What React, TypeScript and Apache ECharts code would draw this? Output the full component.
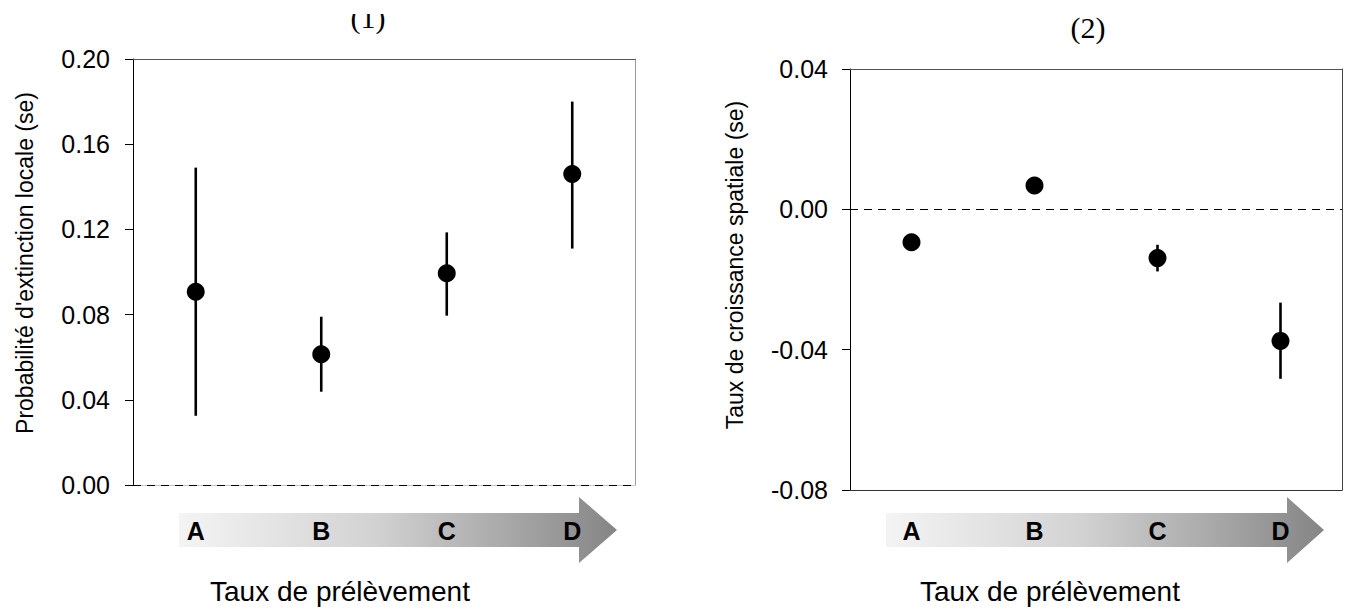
import React, { useEffect, useRef } from "react";
import * as echarts from "echarts";

// ---- data ----
const categories = ["A", "B", "C", "D"];

// Panel (1): Probabilité d'extinction locale
const extinctionMean = [0.0907, 0.0614, 0.0994, 0.146];
const extinctionLow = [0.0325, 0.0438, 0.0795, 0.111];
const extinctionHigh = [0.149, 0.079, 0.1186, 0.18];
const extinctionAxis = { min: 0, max: 0.2, interval: 0.04 };

// Panel (2): Taux de croissance spatiale
const growthMean = [-0.0094, 0.0068, -0.0139, -0.0375];
const growthLow = [-0.0101, 0.0061, -0.0177, -0.0483];
const growthHigh = [-0.0087, 0.0075, -0.0101, -0.0266];
const growthAxis = { min: -0.08, max: 0.04, interval: 0.04 };

const panelTitles = ["(1)", "(2)"];
const yTitles = ["Probabilité d'extinction locale (se)", "Taux de croissance spatiale (se)"];
const xTitle = "Taux de prélèvement";

const SANS = "'Liberation Sans', Arial, Helvetica, sans-serif";
const SERIF = "'Liberation Serif', 'Times New Roman', serif";

function errorBarSeries(xIdx: number, yIdx: number, low: number[], high: number[], zeroUnderlay: boolean) {
  const s: any = {
    type: "custom",
    xAxisIndex: xIdx,
    yAxisIndex: yIdx,
    silent: true,
    z: 3,
    data: categories.map((_, i) => [i, low[i], high[i]]),
    encode: { x: 0, y: [1, 2] },
    renderItem: (params: any, api: any) => {
      const x = api.value(0);
      const lo = api.coord([x, api.value(1)]);
      const hi = api.coord([x, api.value(2)]);
      return {
        type: "line",
        shape: { x1: lo[0], y1: lo[1], x2: hi[0], y2: hi[1] },
        style: { stroke: "#000", lineWidth: 2.6 },
      };
    },
  };
  if (zeroUnderlay) {
    s.markLine = {
      silent: true,
      symbol: "none",
      label: { show: false },
      lineStyle: { color: "#c8c8c8", type: "solid", width: 1.2 },
      data: [{ yAxis: 0 }],
    };
  }
  return s;
}

function pointSeries(xIdx: number, yIdx: number, mean: number[]) {
  return {
    type: "scatter",
    xAxisIndex: xIdx,
    yAxisIndex: yIdx,
    symbol: "circle",
    symbolSize: 18,
    itemStyle: { color: "#000", opacity: 1 },
    z: 4,
    data: categories.map((_, i) => [i, mean[i]]),
    markLine: {
      silent: true,
      symbol: "none",
      label: { show: false },
      lineStyle: { color: "#000", type: [8, 6], width: 1.2 },
      data: [{ yAxis: 0 }],
    },
  };
}

function bottomCategoryAxis(gridIndex: number, showLine: boolean, lineColor: string, margin: number) {
  return {
    gridIndex,
    type: "category",
    data: categories,
    boundaryGap: true,
    position: "bottom",
    z: 10,
    axisLine: { show: showLine, onZero: false, lineStyle: { color: lineColor, width: 1 } },
    axisTick: { show: false },
    axisLabel: {
      show: true,
      margin,
      color: "#000",
      fontWeight: "bold",
      fontSize: 25,
      fontFamily: SANS,
    },
    splitLine: { show: false },
  };
}

function topCategoryAxis(gridIndex: number, lineColor: string) {
  return {
    gridIndex,
    type: "category",
    data: categories,
    boundaryGap: true,
    position: "top",
    axisLine: { show: true, onZero: false, lineStyle: { color: lineColor, width: 1 } },
    axisTick: { show: false },
    axisLabel: { show: false },
    splitLine: { show: false },
  };
}

function leftValueAxis(gridIndex: number, range: { min: number; max: number; interval: number }, margin: number) {
  return {
    gridIndex,
    type: "value",
    position: "left",
    min: range.min,
    max: range.max,
    interval: range.interval,
    axisLine: { show: true, onZero: false, lineStyle: { color: "#000", width: 1 } },
    axisTick: { show: true, inside: false, length: 8, lineStyle: { color: "#000", width: 1 } },
    axisLabel: {
      show: true,
      margin,
      color: "#000",
      fontSize: 25,
      fontFamily: SANS,
      formatter: (v: number) => v.toFixed(2),
    },
    splitLine: { show: false },
  };
}

function rightValueAxis(gridIndex: number, range: { min: number; max: number; interval: number }, lineColor: string) {
  return {
    gridIndex,
    type: "value",
    position: "right",
    min: range.min,
    max: range.max,
    interval: range.interval,
    axisLine: { show: true, onZero: false, lineStyle: { color: lineColor, width: 1 } },
    axisTick: { show: false },
    axisLabel: { show: false },
    splitLine: { show: false },
  };
}

function arrow(x0: number, xHead: number, xTip: number) {
  return {
    type: "polygon",
    z: 1,
    silent: true,
    shape: {
      points: [
        [x0, 513],
        [xHead, 513],
        [xHead, 497],
        [xTip, 530],
        [xHead, 563],
        [xHead, 547],
        [x0, 547],
      ],
    },
    style: {
      fill: new echarts.graphic.LinearGradient(0, 0, 1, 0, [
        { offset: 0, color: "#f4f4f4" },
        { offset: 0.45, color: "#d2d2d2" },
        { offset: 1, color: "#858585" },
      ]),
      stroke: "none",
    },
  };
}

function text(str: string, x: number, y: number, font: string, rotation = 0) {
  return {
    type: "text",
    z: 5,
    x,
    y,
    rotation,
    style: { text: str, fill: "#000", font, align: "center", verticalAlign: "middle" },
  };
}

export default function App() {
  const ref = useRef<HTMLDivElement>(null);

  useEffect(() => {
    if (!ref.current) return;
    const chart = echarts.init(ref.current, null, { renderer: "svg" });
    const option: any = {
      animation: false,
      backgroundColor: "#fff",
      grid: [
        { left: 133, top: 59, width: 502, height: 426, containLabel: false, show: false },
        { left: 850, top: 69, width: 492, height: 421, containLabel: false, show: false },
      ],
      xAxis: [
        bottomCategoryAxis(0, false, "#aaa", 33),
        topCategoryAxis(0, "#555"),
        bottomCategoryAxis(1, true, "#333", 28),
        topCategoryAxis(1, "#555"),
      ],
      yAxis: [
        leftValueAxis(0, extinctionAxis, 23),
        rightValueAxis(0, extinctionAxis, "#999"),
        leftValueAxis(1, growthAxis, 22),
        rightValueAxis(1, growthAxis, "#444"),
      ],
      series: [
        errorBarSeries(0, 0, extinctionLow, extinctionHigh, true),
        pointSeries(0, 0, extinctionMean),
        errorBarSeries(2, 2, growthLow, growthHigh, false),
        pointSeries(2, 2, growthMean),
      ],
      graphic: [
        arrow(179, 579, 617),
        arrow(886, 1287, 1324),
        text(panelTitles[0], 368, 17, `30px ${SERIF}`),
        {
          type: "rect",
          z: 6,
          silent: true,
          shape: { x: 340, y: 0, width: 60, height: 14 },
          style: { fill: "#fff", stroke: "none" },
        },
        text(panelTitles[1], 1088, 27, `30px ${SERIF}`),
        text(yTitles[0], 25, 263, `23px ${SANS}`, Math.PI / 2),
        text(yTitles[1], 735, 265, `23px ${SANS}`, Math.PI / 2),
        text(xTitle, 340, 591, `28px ${SANS}`),
        text(xTitle, 1050, 591, `28px ${SANS}`),
      ],
    };
    chart.setOption(option);
    return () => chart.dispose();
  }, []);

  return (
    <div
      ref={ref}
      style={{ position: "absolute", left: 0, top: 0, width: 1345, height: 610, background: "#fff" }}
    />
  );
}
